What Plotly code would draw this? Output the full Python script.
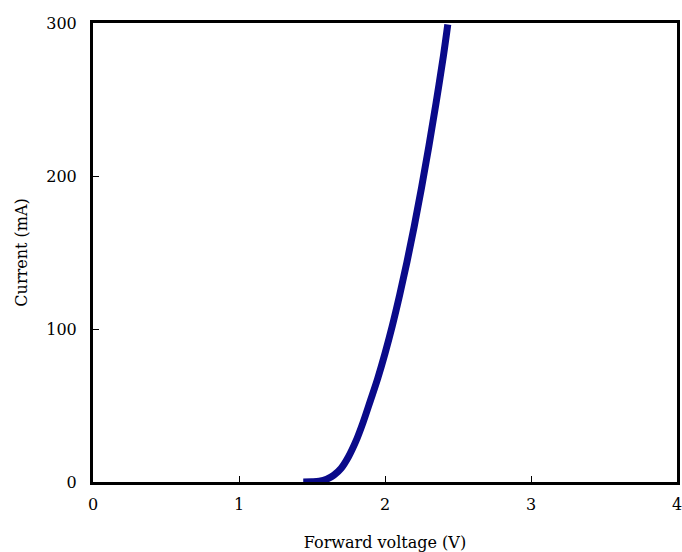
import plotly.graph_objects as go

voltage = [1.44, 1.50, 1.55, 1.60, 1.65, 1.70, 1.75, 1.80, 1.85, 1.90, 1.95, 2.00, 2.05, 2.10, 2.15, 2.20, 2.25, 2.30, 2.35, 2.40, 2.43]
current = [0.0, 0.1, 0.5, 1.8, 4.5, 9.0, 16.5, 26.5, 39.0, 53.2, 67.7, 84.0, 102.0, 122.0, 143.6, 167.0, 192.2, 219.2, 247.9, 278.4, 299.0]

x_ticks = [0, 1, 2, 3, 4]
y_ticks = [0, 100, 200, 300]

font_family = "DejaVu Serif, Liberation Serif, serif"

fig = go.Figure()
fig.add_trace(go.Scatter(
    x=voltage, y=current, mode="lines",
    line=dict(color="#0a0a8a", width=7, shape="spline"),
    showlegend=False, cliponaxis=True,
))

fig.update_layout(
    width=682, height=552,
    margin=dict(l=93, r=5, t=23, b=70, autoexpand=False),
    paper_bgcolor="white", plot_bgcolor="white",
    font=dict(family=font_family, size=16, color="black"),
)
fig.update_xaxes(
    range=[0, 4], tickvals=x_ticks, ticktext=[str(v) for v in x_ticks],
    showline=True, linecolor="black", linewidth=3, mirror=True,
    ticks="inside", ticklen=6, tickwidth=1, tickcolor="black",
    showgrid=False, zeroline=False, automargin=False,
    ticklabelstandoff=6, ticklabeloverflow="allow",
    title=dict(text="Forward voltage (V)", font=dict(size=16), standoff=24),
)
fig.update_yaxes(
    range=[0, 300], tickvals=y_ticks, ticktext=[str(v) for v in y_ticks],
    showline=True, linecolor="black", linewidth=3, mirror=True,
    ticks="inside", ticklen=6, tickwidth=1, tickcolor="black",
    showgrid=False, zeroline=False, automargin=False,
    ticklabelstandoff=10, ticklabeloverflow="allow",
    title=dict(text="Current (mA)", font=dict(size=16), standoff=15),
)

fig.write_html(
    "out.html",
    config={"displayModeBar": False},
    post_script="document.body.style.margin='0';document.body.style.overflow='hidden';",
)
